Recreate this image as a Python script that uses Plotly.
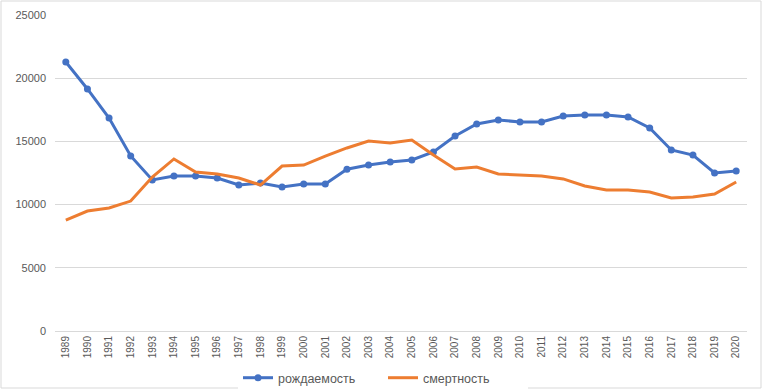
import plotly.graph_objects as go

years = [str(y) for y in range(1989, 2021)]
births = [21280, 19150, 16850, 13850, 11950, 12260, 12260, 12100, 11550, 11700,
          11400, 11630, 11630, 12800, 13130, 13370, 13530, 14160, 15430, 16380,
          16700, 16530, 16530, 17010, 17090, 17090, 16930, 16060, 14320, 13920,
          12500, 12660]
deaths = [8780, 9490, 9730, 10280, 12180, 13610, 12580, 12420, 12100, 11550,
          13050, 13130, 13840, 14480, 15030, 14870, 15110, 13920, 12820, 12970,
          12420, 12340, 12260, 12030, 11470, 11150, 11150, 11000, 10520, 10600,
          10840, 11790]
y_ticks = [0, 5000, 10000, 15000, 20000, 25000]

W, H = 763, 391
L, R, T, B = 55, 16, 15, 60

fig = go.Figure()
fig.add_trace(go.Scatter(x=years, y=births, name="рождаемость", mode="lines+markers",
                         line=dict(color="#4472C4", width=3),
                         marker=dict(size=7, color="#4472C4")))
fig.add_trace(go.Scatter(x=years, y=deaths, name="смертность", mode="lines",
                         line=dict(color="#ED7D31", width=3)))

pw = W - L - R
ph = H - T - B
fig.add_shape(type="rect", xref="paper", yref="paper",
              x0=(1 - L) / pw, x1=(W - 2 - L) / pw,
              y0=-(H - 3 - (H - B)) / ph, y1=1 + (T - 1) / ph,
              line=dict(color="#d9d9d9", width=1), layer="below")

fig.update_layout(
    width=W, height=H, autosize=False,
    margin=dict(l=L, r=R, t=T, b=B, autoexpand=False),
    plot_bgcolor="white", paper_bgcolor="white",
    font=dict(family="Liberation Sans, Arial", color="#595959", size=11),
    showlegend=True,
    legend=dict(orientation="h", x=(238 - L) / pw, xanchor="left", y=-0.149, yanchor="middle",
                font=dict(size=12.5, color="#595959"), itemwidth=30,
                entrywidth=100, traceorder="normal"),
    xaxis=dict(type="category", range=[-0.5, len(years) - 0.5], tickangle=-90,
               automargin=False,
               showgrid=False, showline=True, linecolor="#d9d9d9", linewidth=1,
               ticks="", tickfont=dict(size=10, color="#595959"), fixedrange=True),
    yaxis=dict(range=[0, 25000], tickvals=y_ticks, ticktext=[str(v) for v in y_ticks],
               automargin=False, fixedrange=True,
               showgrid=True, gridcolor="#d9d9d9", gridwidth=1, zeroline=False,
               ticks="", tickfont=dict(size=11, color="#595959"), ticklabelstandoff=8),
)

fig.write_html("out.html", config={"displayModeBar": False},
               post_script="document.body.style.margin='0';document.body.style.overflow='hidden';")
